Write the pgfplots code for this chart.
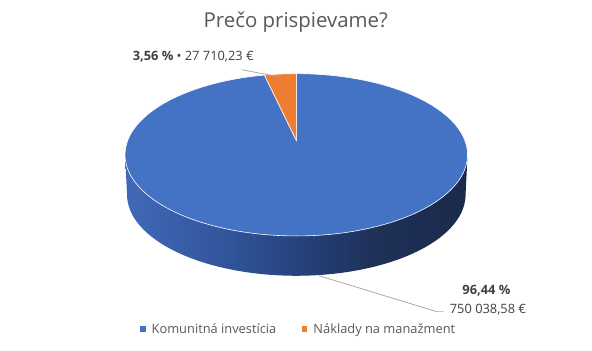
\documentclass[border=0pt]{standalone}
\usepackage{pgfplots}
\usepackage{pgfplotstable}
\pgfplotsset{compat=1.18}
\usepackage{fontspec}
\setmainfont{Open Sans}
\definecolor{cblue}{HTML}{4472C4}
\definecolor{corange}{HTML}{ED7D31}
\definecolor{s0}{HTML}{4169B8}
\definecolor{s1}{HTML}{30549A}
\definecolor{s2}{HTML}{26427A}
\definecolor{s3}{HTML}{1E3158}
\definecolor{s4}{HTML}{1B2A4B}
\definecolor{ctitle}{HTML}{595959}
\definecolor{clabel}{HTML}{404040}
\definecolor{cline}{HTML}{A6A6A6}
\pgfdeclarehorizontalshading{sidewall}{100bp}{color(0bp)=(s0); color(25bp)=(s0); color(40.5bp)=(s1); color(50.5bp)=(s2); color(61bp)=(s3); color(75bp)=(s4); color(100bp)=(s4)}
\pgfplotstableread{
name value amount
Komunitna 96.44 750038.58
Naklady 3.56 27710.23
}\piedata
\begin{document}
\pgfplotstablegetelem{1}{value}\of\piedata
\pgfmathsetmacro\angB{90+3.6*\pgfplotsretval}
\begin{tikzpicture}
\begin{axis}[hide axis, scale only axis, width=592pt, height=352pt,
  xmin=0, xmax=592, ymin=0, ymax=352, enlargelimits=false, clip=false,
  legend style={at={(axis cs:297.5,21.5)}, anchor=center, draw=none, fill=none,
    legend columns=2, font=\fontsize{12.9}{15}\selectfont, text=ctitle, inner sep=0pt,
    /tikz/every even column/.append style={column sep=24pt}},
  legend cell align=left,
  legend image code/.code={\fill[#1,draw=none] (0pt,-2.6pt) rectangle (5.2pt,2.6pt); \path (5.2pt,0) -- (9pt,0);}]
\addplot[forget plot, draw=none, fill=white] coordinates {(0,0) (592,0) (592,352) (0,352)} -- cycle;
\addplot[forget plot, draw=none, shade, shading=sidewall, domain=180:360, samples=120]
  ({295+170*cos(x)}, {156.5+81.5*sin(x)}) -- (467,196.5) -- (123,196.5) -- cycle;
\addplot[fill=cblue, draw=white, line width=0.6pt, domain=\angB:450, samples=300]
  ({295+172*sqrt(1-0.178^2)*cos(x)/(1+0.178*sin(x))}, {196.5+81.5*(sin(x)+0.178)/(1+0.178*sin(x))}) -- (295,211) -- cycle;
\addplot[fill=corange, draw=white, line width=0.6pt, domain=90:\angB, samples=20]
  ({295+172*sqrt(1-0.178^2)*cos(x)/(1+0.178*sin(x))}, {196.5+81.5*(sin(x)+0.178)/(1+0.178*sin(x))}) -- (295,211) -- cycle;
\addplot[forget plot, color=cline, line width=0.75pt] coordinates {(240,282) (277,275)};
\addplot[forget plot, color=cline, line width=0.75pt] coordinates {(318,75) (436,39) (443,39)};
\node[anchor=base, font=\fontsize{20.5}{24}\selectfont, text=ctitle] at (axis cs:294.5,324) {Prečo prispievame?};
\node[anchor=base, font=\fontsize{12.9}{15}\selectfont, text=clabel] at (axis cs:191.5,291) {\textbf{3,56 \%} • 27 710,23 €};
\node[anchor=base, font=\fontsize{12.9}{15}\selectfont, text=clabel] at (axis cs:486,56) {\textbf{96,44 \%}};
\node[anchor=base, font=\fontsize{12.9}{15}\selectfont, text=clabel] at (axis cs:487.5,37) {750 038,58 €};
\legend{Komunitná investícia, Náklady na manažment}
\end{axis}
\end{tikzpicture}
\end{document}
